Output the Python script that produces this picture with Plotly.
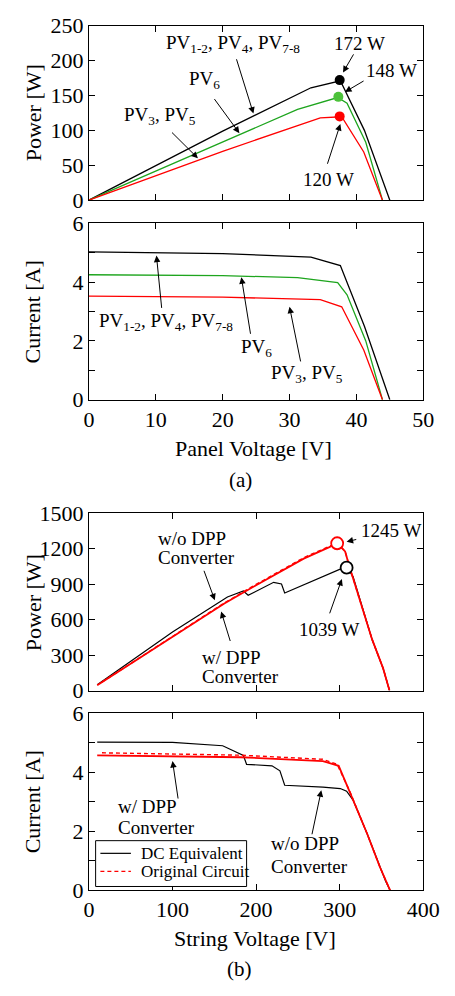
import plotly.graph_objects as go

# ---------------- (a) single-panel characteristics ----------------
# PV1-2, PV4, PV7-8 (uniform irradiance)
v_pv1 = [0, 10, 20, 33.2, 37.6, 41.2, 45.0]
i_pv1 = [5.03, 5.01, 4.97, 4.85, 4.56, 2.50, 0.0]
p_pv1 = [0, 50, 99, 161, 171, 100, 0]
# PV6
v_pv6 = [0, 10, 20, 31.2, 37.2, 38.6, 41.4, 43.9]
i_pv6 = [4.25, 4.24, 4.22, 4.15, 3.98, 3.57, 2.00, 0.0]
p_pv6 = [0, 42, 84, 130, 147, 139, 83, 0]
# PV3, PV5
v_pv3 = [0, 10, 20, 34.6, 37.8, 41.1, 43.9]
i_pv3 = [3.52, 3.51, 3.49, 3.40, 3.16, 1.69, 0.0]
p_pv3 = [0, 35, 70, 118, 119.5, 69, 0]
# maximum power points
mpp_v = [37.5, 37.3, 37.5]
mpp_p = [172, 148, 120]

# ---------------- (b) string characteristics ----------------
# w/o DPP converter (DC equivalent)
vs_dc_i = [9.9, 100, 160, 184.8, 188.6, 219, 228.5, 234.2, 280, 300.7, 308.3, 316, 333, 348, 355, 360.2]
is_dc = [5.01, 5.00, 4.89, 4.56, 4.26, 4.21, 4.04, 3.55, 3.49, 3.44, 3.35, 3.05, 1.90, 0.79, 0.30, 0.0]
vs_dc_p = [9.9, 100, 165.7, 184.8, 190.5, 221, 230.4, 234.2, 302, 308.3, 316, 325.4, 338.7, 352, 359.6]
ps_dc = [49, 495, 791, 841, 805, 915, 901, 824, 1030, 1039, 964, 736, 434, 187, 0]
# w/ DPP converter (DC equivalent)
vs_dpp_i = [9.9, 181, 279.8, 298.8, 312, 333, 348, 355, 360.2]
is_dpp = [4.56, 4.50, 4.37, 4.21, 3.33, 1.90, 0.79, 0.30, 0.0]
vs_dpp_p = [9.9, 100, 162, 200, 257, 287, 297, 306.5, 312, 325.4, 338.7, 352, 359.6]
ps_dpp = [45, 452, 736, 890, 1115, 1210, 1245, 1176, 1040, 736, 434, 187, 0]
# w/ DPP converter (original circuit)
vs_org_i = [15.6, 181, 279.8, 297, 312, 333, 348, 355, 360.2]
is_org = [4.65, 4.57, 4.43, 4.26, 3.35, 1.90, 0.79, 0.30, 0.0]
vs_org_p = [15.6, 100, 162, 200, 257, 287, 297, 306.5, 312, 325.4, 338.7, 352, 359.6]
ps_org = [71, 456, 741, 897, 1123, 1217, 1250, 1178, 1040, 736, 434, 187, 0]
# string maximum power points
smpp_v = [297, 308.3]
smpp_p = [1245, 1039]

# current axis ticks (labels on every other tick)
cur_tickvals = [0, 1, 2, 3, 4, 5, 6]
cur_ticktext = ["0", "", "2", "", "4", "", "6"]

BLACK = "#000000"
GREEN = "#1ea51e"
GREEN_M = "#4cc23a"
RED = "#ff0000"
FONT = "Liberation Serif, Times New Roman, Times, serif"
DASH = "4px,3px"

W, H = 455, 996
XD = [88 / W, 438.5 / W]


def ydom(top, bot):
    return [1 - bot / H, 1 - top / H]


fig = go.Figure()


def line(x, y, xa, ya, color, width=1.3, dash="solid"):
    fig.add_trace(go.Scatter(x=x, y=y, xaxis=xa, yaxis=ya, mode="lines",
                             line=dict(color=color, width=width, dash=dash),
                             showlegend=False, hoverinfo="skip"))


# (a) power
line(v_pv1, p_pv1, "x", "y", BLACK)
line(v_pv6, p_pv6, "x", "y", GREEN)
line(v_pv3, p_pv3, "x", "y", RED)
fig.add_trace(go.Scatter(x=mpp_v, y=mpp_p, xaxis="x", yaxis="y", mode="markers",
                         marker=dict(size=10, color=[BLACK, GREEN_M, RED], line=dict(width=0)),
                         showlegend=False, hoverinfo="skip"))
# (a) current
line(v_pv1, i_pv1, "x2", "y2", BLACK)
line(v_pv6, i_pv6, "x2", "y2", GREEN)
line(v_pv3, i_pv3, "x2", "y2", RED)

# (b) power
line(vs_dc_p, ps_dc, "x3", "y3", BLACK, 1.2)
line(vs_dpp_p, ps_dpp, "x3", "y3", RED, 1.8)
line(vs_org_p, ps_org, "x3", "y3", RED, 1.4, DASH)
fig.add_trace(go.Scatter(x=smpp_v, y=smpp_p, xaxis="x3", yaxis="y3", mode="markers",
                         marker=dict(size=12, color="white", symbol="circle",
                                     line=dict(width=1.8, color=[RED, BLACK])),
                         showlegend=False, hoverinfo="skip"))
# (b) current
line(vs_dc_i, is_dc, "x4", "y4", BLACK, 1.2)
line(vs_dpp_i, is_dpp, "x4", "y4", RED, 1.8)
line(vs_org_i, is_org, "x4", "y4", RED, 1.4, DASH)

axis_common = dict(showline=True, linecolor=BLACK, linewidth=1, mirror="ticks",
                   ticks="inside", ticklen=6, tickwidth=1, tickcolor=BLACK,
                   showgrid=False, zeroline=False,
                   tickfont=dict(family=FONT, size=22, color=BLACK))

fig.update_layout(
    width=W, height=H, margin=dict(l=0, r=0, t=0, b=0),
    paper_bgcolor="white", plot_bgcolor="white",
    font=dict(family=FONT, color=BLACK),
    showlegend=False,
    xaxis=dict(domain=XD, range=[0, 50], dtick=10, showticklabels=False, anchor="y", **axis_common),
    yaxis=dict(domain=ydom(14, 193), range=[0, 250], dtick=50, anchor="x", **axis_common),
    xaxis2=dict(domain=XD, range=[0, 50], dtick=10, anchor="y2", **axis_common),
    yaxis2=dict(domain=ydom(216.7, 397.7), range=[0, 6], tickmode="array",
                tickvals=cur_tickvals, ticktext=cur_ticktext, anchor="x2", **axis_common),
    xaxis3=dict(domain=XD, range=[0, 400], dtick=100, showticklabels=False, anchor="y3", **axis_common),
    yaxis3=dict(domain=ydom(514, 696), range=[0, 1500], dtick=300, anchor="x3", **axis_common),
    xaxis4=dict(domain=XD, range=[0, 400], dtick=100, anchor="y4", **axis_common),
    yaxis4=dict(domain=ydom(719, 900.7), range=[0, 6], tickmode="array",
                tickvals=cur_tickvals, ticktext=cur_ticktext, anchor="x4", **axis_common),
)

ann = []
shapes = []


def text(x, y, s, xr, yr, size=19, xanchor="left"):
    ann.append(dict(x=x, y=y, xref=xr, yref=yr, text=s, showarrow=False,
                    xanchor=xanchor, yanchor="middle",
                    font=dict(family=FONT, size=size, color=BLACK)))


def arrow(x0, y0, x1, y1, xr, yr):
    ann.append(dict(x=x1, y=y1, ax=x0, ay=y0, xref=xr, yref=yr, axref=xr, ayref=yr,
                    text="", showarrow=True, arrowhead=2, arrowsize=1.3,
                    arrowwidth=1, arrowcolor=BLACK))


def ptext(px, py, s, size=22, angle=0, xanchor="center"):
    ann.append(dict(x=px / W, y=1 - py / H, xref="paper", yref="paper", text=s,
                    showarrow=False, xanchor=xanchor, yanchor="middle", textangle=angle,
                    font=dict(family=FONT, size=size, color=BLACK)))


# (a) power labels
text(11.3, 223, "PV<sub>1-2</sub>, PV<sub>4</sub>, PV<sub>7-8</sub>", "x", "y")
arrow(22.0, 204, 24.6, 124, "x", "y")
text(14.6, 172, "PV<sub>6</sub>", "x", "y")
arrow(18.6, 147, 22.5, 96, "x", "y")
text(4.9, 120, "PV<sub>3</sub>, PV<sub>5</sub>", "x", "y")
arrow(12.2, 99, 16.3, 60, "x", "y")
text(36.4, 225, "172 W", "x", "y")
arrow(39.7, 211, 38.0, 183, "x", "y")
text(41.1, 186, "148 W", "x", "y")
arrow(41.3, 172, 38.3, 155, "x", "y")
text(31.7, 30, "120 W", "x", "y")
arrow(35.6, 50, 37.6, 109, "x", "y")

# (a) current labels
text(1.2, 2.63, "PV<sub>1-2</sub>, PV<sub>4</sub>, PV<sub>7-8</sub>", "x2", "y2")
arrow(10.9, 3.07, 10.1, 4.9, "x2", "y2")
text(22.4, 1.75, "PV<sub>6</sub>", "x2", "y2")
arrow(24.2, 2.19, 22.8, 4.16, "x2", "y2")
text(27.0, 0.86, "PV<sub>3</sub>, PV<sub>5</sub>", "x2", "y2")
arrow(31.7, 1.25, 30.0, 3.16, "x2", "y2")

# (b) power labels
text(80.2, 1286, "w/o DPP", "x3", "y3")
text(80.2, 1121, "Converter", "x3", "y3")
arrow(137, 1025, 150.6, 764, "x3", "y3")
text(133.4, 283, "w/ DPP", "x3", "y3")
text(133.4, 118, "Converter", "x3", "y3")
arrow(169.6, 406, 158.2, 668, "x3", "y3")
text(323.6, 1354, "1245 W", "x3", "y3")
arrow(321.6, 1280, 308.3, 1258, "x3", "y3")
text(248.6, 517, "1039 W", "x3", "y3")
arrow(287.4, 640, 302.6, 942, "x3", "y3")

# (b) current labels
text(32.7, 2.83, "w/ DPP", "x4", "y4")
text(32.7, 2.11, "Converter", "x4", "y4")
arrow(106.9, 3.05, 100, 4.37, "x4", "y4")
text(215.2, 1.57, "w/o DPP", "x4", "y4")
text(215.2, 0.79, "Converter", "x4", "y4")
arrow(266.5, 1.84, 278, 3.38, "x4", "y4")

# legend box for the string current panel
def pline(x0, y0, x1, y1, color, dash="solid", width=1.2):
    shapes.append(dict(type="line", xref="paper", yref="paper",
                       x0=x0 / W, x1=x1 / W, y0=1 - y0 / H, y1=1 - y1 / H,
                       line=dict(color=color, width=width, dash=dash)))


shapes.append(dict(type="rect", xref="paper", yref="paper",
                   x0=95 / W, x1=253.3 / W, y0=1 - 897 / H, y1=1 - 850 / H,
                   line=dict(color=BLACK, width=1), fillcolor="white", layer="above"))
pline(100, 863, 132, 863, BLACK)
pline(100, 881.5, 132, 881.5, RED, DASH, 1.4)
ptext(140, 863, "DC Equivalent", size=17, xanchor="left")
ptext(140, 881.5, "Original Circuit", size=17, xanchor="left")

# axis titles and panel captions
ptext(30, 103.3, "Power [W]", angle=-90)
ptext(29, 307.5, "Current [A]", angle=-90)
ptext(261, 448, "Panel Voltage [V]")
ptext(246.5, 480, "(a)", size=21)
ptext(30, 605.8, "Power [W]", angle=-90)
ptext(29, 810, "Current [A]", angle=-90)
ptext(261.7, 950, "String Voltage [V]")
ptext(245.8, 981.7, "(b)", size=21)

fig.update_layout(annotations=ann, shapes=shapes)
fig.write_html("out.html")
